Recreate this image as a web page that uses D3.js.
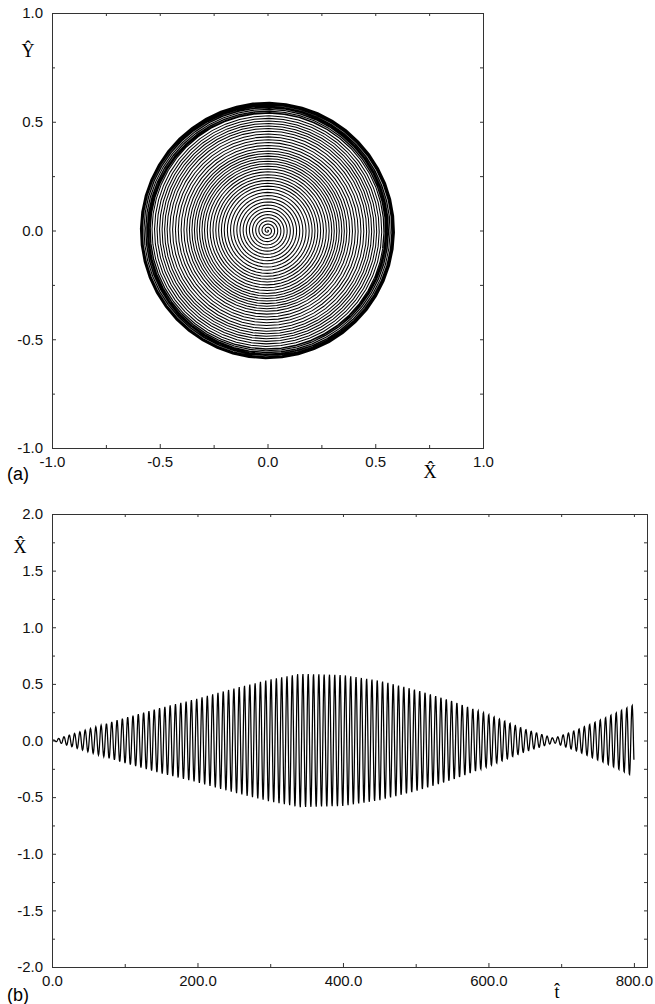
<html>

<head>
    <title>Spiral and oscillation</title>
    <script src="https://d3js.org/d3.v7.min.js"></script>
    <style>
        body { margin: 0; background: #fff; }
        .tick text { font-family: "Liberation Sans", Arial, sans-serif; font-size: 15px; fill: #111; }
        .domain { stroke: #333; }
        .tick line { stroke: #333; }
    </style>
</head>

<body>
    <div id="myPlot"></div>
    <script>
        // envelope of X(t)
        var envT = [0, 50, 100, 150, 200, 250, 300, 340, 400, 450, 500, 550, 600, 650, 690, 720, 760, 800];
        var envA = [0, 0.1, 0.2, 0.29, 0.37, 0.46, 0.54, 0.59, 0.58, 0.53, 0.45, 0.35, 0.23, 0.1, 0.02, 0.09, 0.2, 0.32];
        var period = 7.3;       // oscillation period, ~110 cycles over 0..800
        var spiralEnd = 440;    // panel (a) shows the first part of the run

        var aTicks = [-1.0, -0.5, 0.0, 0.5, 1.0];
        var aMinor = [-0.75, -0.25, 0.25, 0.75];
        var bXTicks = [0, 200, 400, 600, 800];
        var bXMinor = [100, 300, 500, 700];
        var bYTicks = [-2.0, -1.5, -1.0, -0.5, 0.0, 0.5, 1.0, 1.5, 2.0];
        var bYMinor = [-1.75, -1.25, -0.75, -0.25, 0.25, 0.75, 1.25, 1.75];

        var fmt = function (d) { return d.toFixed(1); };

        var svg = d3.select("#myPlot").append("svg")
            .attr("width", 655)
            .attr("height", 1004);

        // envelope as a d3 scale
        var env = d3.scaleLinear().domain(envT).range(envA);

        function sample(t0, t1, perCycle) {
            var n = Math.round((t1 - t0) / period * perCycle);
            var pts = [];
            for (var i = 0; i <= n; i++) {
                var t = t0 + (t1 - t0) * i / n;
                var ph = 2 * Math.PI * t / period;
                pts.push({ t: t, x: env(t) * Math.sin(ph), y: env(t) * Math.cos(ph) });
            }
            return pts;
        }

        function boxAxes(g, x, y, xt, xm, yt, ym, xf, yf) {
            var top = y.range()[1], bot = y.range()[0], left = x.range()[0], right = x.range()[1];

            g.append("g").attr("transform", "translate(0," + bot + ")")
                .call(d3.axisBottom(x).tickValues(xt).tickSize(-4).tickPadding(8).tickFormat(xf));
            g.append("g").attr("transform", "translate(0," + bot + ")")
                .call(d3.axisBottom(x).tickValues(xm).tickSize(-3).tickFormat(""));
            g.append("g").attr("transform", "translate(0," + top + ")")
                .call(d3.axisTop(x).tickValues(xt.concat(xm)).tickSize(-3).tickFormat(""));

            g.append("g").attr("transform", "translate(" + left + ",0)")
                .call(d3.axisLeft(y).tickValues(yt).tickSize(-4).tickPadding(9).tickFormat(yf));
            g.append("g").attr("transform", "translate(" + left + ",0)")
                .call(d3.axisLeft(y).tickValues(ym).tickSize(-3).tickFormat(""));
            g.append("g").attr("transform", "translate(" + right + ",0)")
                .call(d3.axisRight(y).tickValues(yt.concat(ym)).tickSize(-3).tickFormat(""));

            g.selectAll(".domain").attr("stroke-width", 1);
        }

        function hatLabel(txt, x, y, size) {
            svg.append("text")
                .attr("x", x).attr("y", y)
                .attr("text-anchor", "middle")
                .style("font-family", "'Liberation Serif', 'Times New Roman', serif")
                .style("font-size", size + "px")
                .text(txt);
        }

        // ---------- panel (a) ----------
        var xa = d3.scaleLinear().domain([-1, 1]).range([52, 483]);
        var ya = d3.scaleLinear().domain([-1, 1]).range([448, 13]);
        var ga = svg.append("g");

        ga.append("path")
            .datum(sample(0, spiralEnd, 48))
            .attr("fill", "none")
            .attr("stroke", "#000")
            .attr("stroke-width", 1.05)
            .attr("d", d3.line().x(function (d) { return xa(d.x); }).y(function (d) { return ya(d.y); }));

        boxAxes(ga, xa, ya, aTicks, aMinor, aTicks, aMinor, fmt, fmt);

        hatLabel("X\u0302", 430, 478, 18);
        hatLabel("Y\u0302", 28, 57, 18);
        svg.append("text").attr("x", 7).attr("y", 480)
            .style("font-family", "'Liberation Sans', Arial, sans-serif")
            .style("font-size", "18px").text("(a)");

        // ---------- panel (b) ----------
        var xb = d3.scaleLinear().domain([0, 818]).range([52, 647]);
        var yb = d3.scaleLinear().domain([-2, 2]).range([967, 514]);
        var gb = svg.append("g");

        gb.append("path")
            .datum(sample(0, 800, 16))
            .attr("fill", "none")
            .attr("stroke", "#000")
            .attr("stroke-width", 1.25)
            .attr("d", d3.line().x(function (d) { return xb(d.t); }).y(function (d) { return yb(d.x); }));

        boxAxes(gb, xb, yb, bXTicks, bXMinor, bYTicks, bYMinor, fmt, fmt);

        hatLabel("X\u0302", 20, 553, 18);
        hatLabel("t\u0302", 557, 998, 18);
        svg.append("text").attr("x", 7).attr("y", 1001)
            .style("font-family", "'Liberation Sans', Arial, sans-serif")
            .style("font-size", "18px").text("(b)");
    </script>
</body>

</html>
